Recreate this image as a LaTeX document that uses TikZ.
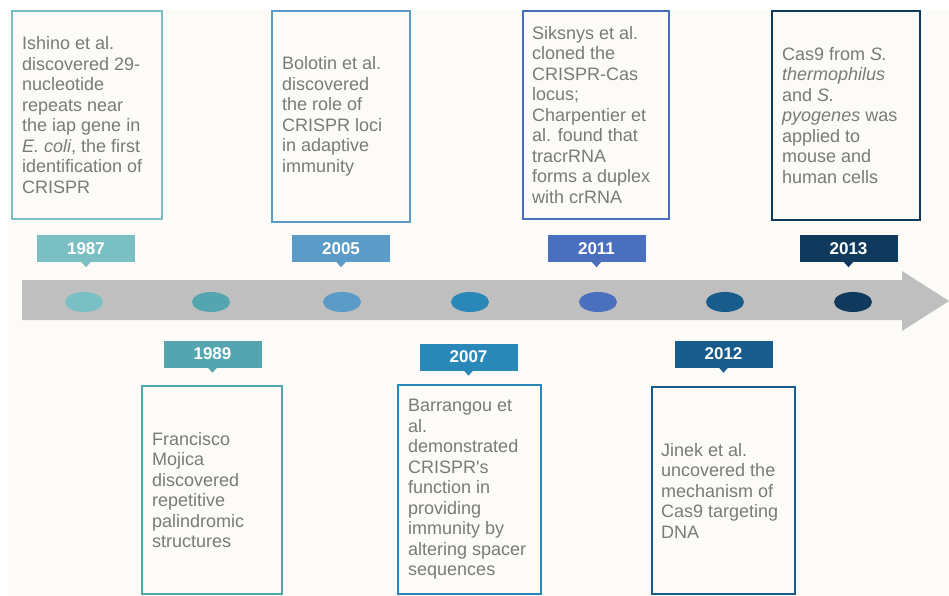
\documentclass[tikz,border=0pt]{standalone}
\usepackage{fontspec}
\setmainfont{Liberation Sans}[Ligatures=TeXOff]
\usetikzlibrary{shapes.geometric}

\definecolor{paper}{HTML}{FCFBF7}
\definecolor{bodytext}{HTML}{7A7A7A}
\definecolor{band}{HTML}{BFBFBF}
\definecolor{cA}{HTML}{7ABFC3}
\definecolor{cB}{HTML}{55A5B0}
\definecolor{cC}{HTML}{5B9BC8}
\definecolor{cD}{HTML}{2A88B8}
\definecolor{cE}{HTML}{4A6FBF}
\definecolor{cF}{HTML}{175C8A}
\definecolor{cG}{HTML}{0F3A5E}

\tikzset{
  eventbox/.style={draw=#1, line width=2.4pt, fill=paper, inner sep=0pt},
  eventtext/.style={anchor=west, inner sep=0pt, align=left, text=bodytext,
    font=\fontsize{18}{20.5}\selectfont},
  yearlabel/.style={fill=#1, text=white, inner sep=0pt, minimum width=98pt,
    minimum height=27pt, font=\fontsize{17}{20}\selectfont\bfseries},
  dot/.style={ellipse, fill=#1, inner sep=0pt, minimum width=38pt, minimum height=20pt},
}

% a small downward pointer under a year label
\newcommand{\yearpointer}[2]{%
  \fill[#2] ([xshift=-4.5pt]#1.south) -- ([xshift=4.5pt]#1.south) -- ([yshift=-5pt]#1.south) -- cycle;}

\begin{document}
\begin{tikzpicture}[x=1pt, y=-1pt]
  \useasboundingbox (0,0) rectangle (949,596);
  \fill[white] (0,0) rectangle (949,596);
  \fill[paper] (8,10) rectangle (949,596);

  % timeline band with arrow head
  \fill[band] (22,280) -- (902,280) -- (902,271) -- (949,301) -- (902,331)
    -- (902,320) -- (22,320) -- cycle;

  % milestones on the band
  \node[dot=cA] (d1) at (84,302) {};
  \node[dot=cB] (d2) at (211,302) {};
  \node[dot=cC] (d3) at (342,302) {};
  \node[dot=cD] (d4) at (470,302) {};
  \node[dot=cE] (d5) at (598,302) {};
  \node[dot=cF] (d6) at (725,302) {};
  \node[dot=cG] (d7) at (853,302) {};

  % year labels
  \node[yearlabel=cA] (y1987) at (86,248.5) {1987};
  \node[yearlabel=cC] (y2005) at (341,248.5) {2005};
  \node[yearlabel=cE] (y2011) at (596.5,248.5) {2011};
  \node[yearlabel=cG] (y2013) at (848.5,248.5) {2013};
  \node[yearlabel=cB] (y1989) at (212.5,354) {1989};
  \node[yearlabel=cD] (y2007) at (468.5,357) {2007};
  \node[yearlabel=cF] (y2012) at (723.5,354) {2012};
  \yearpointer{y1987}{cA}
  \yearpointer{y2005}{cC}
  \yearpointer{y2011}{cE}
  \yearpointer{y2013}{cG}
  \yearpointer{y1989}{cB}
  \yearpointer{y2007}{cD}
  \yearpointer{y2012}{cF}

  % event boxes above the band
  \draw[eventbox=cA] (12,11) rectangle (162,219);
  \coordinate (b1987) at (22,115);
  \draw[eventbox=cC] (272,11) rectangle (410,222);
  \coordinate (b2005) at (282,116.5);
  \draw[eventbox=cE] (523,11) rectangle (669,219);
  \coordinate (b2011) at (532,115);
  \draw[eventbox=cG] (772,11) rectangle (920,220);
  \coordinate (b2013) at (782,115.5);

  % event boxes below the band
  \draw[eventbox=cB] (142,386) rectangle (282,594);
  \coordinate (b1989) at (152,490);
  \draw[eventbox=cD] (398,385) rectangle (541,594);
  \coordinate (b2007) at (408,489.5);
  \draw[eventbox=cF] (652,387) rectangle (795,594);
  \coordinate (b2012) at (661,490.5);

  \node[eventtext] (t1987) at (b1987) {Ishino et al.\\ discovered 29-\\ nucleotide\\ repeats near\\ the iap gene in\\ \textit{E. coli}, the first\\ identification of\\ CRISPR};
  \node[eventtext] (t2005) at (b2005) {Bolotin et al.\\ discovered\\ the role of\\ CRISPR loci\\ in adaptive\\ immunity};
  \node[eventtext] (t2011) at (b2011) {Siksnys et al.\\ cloned the\\ CRISPR-Cas\\ locus;\\ Charpentier et\\ al. found that\\ tracrRNA\\ forms a duplex\\ with crRNA};
  \node[eventtext] (t2013) at (b2013) {Cas9 from \textit{S.}\\ \textit{thermophilus}\\ and \textit{S.}\\ \textit{pyogenes} was\\ applied to\\ mouse and\\ human cells};
  \node[eventtext] (t1989) at (b1989) {Francisco\\ Mojica\\ discovered\\ repetitive\\ palindromic\\ structures};
  \node[eventtext] (t2007) at (b2007) {Barrangou et\\ al.\\ demonstrated\\ CRISPR's\\ function in\\ providing\\ immunity by\\ altering spacer\\ sequences};
  \node[eventtext] (t2012) at (b2012) {Jinek et al.\\ uncovered the\\ mechanism of\\ Cas9 targeting\\ DNA};
\end{tikzpicture}
\end{document}
